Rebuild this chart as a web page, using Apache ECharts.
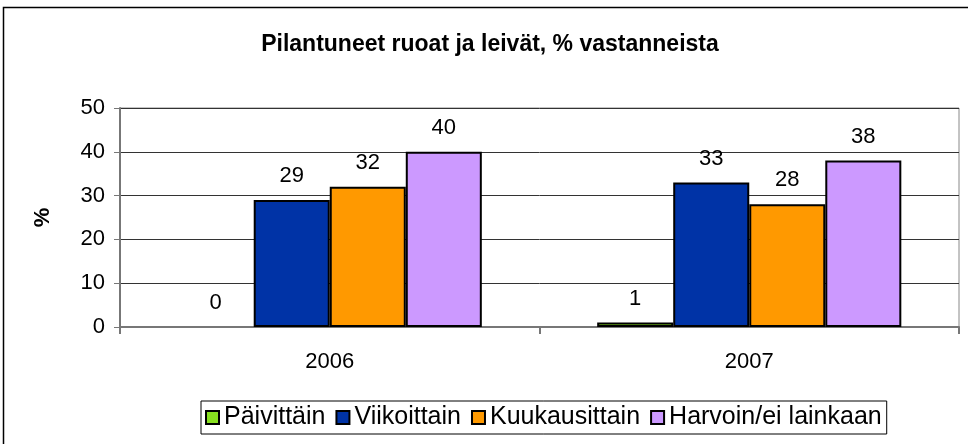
<!DOCTYPE html>
<html>
<head>
<meta charset="utf-8">
<script src="https://cdn.jsdelivr.net/npm/echarts@6/dist/echarts.min.js"></script>
<style>
html, body { margin: 0; padding: 0; background: #fff; }
#chart { width: 968px; height: 444px; }
</style>
</head>
<body>
<div id="chart"></div>
<script>
const years = ['2006', '2007'];
const seriesNames = ['Päivittäin', 'Viikoittain', 'Kuukausittain', 'Harvoin/ei lainkaan'];
const paivittain = [0, 1];
const viikoittain = [29, 33];
const kuukausittain = [32, 28];
const harvoin = [40, 38];
const colors = ['#88e020', '#0033a6', '#ff9900', '#cc99ff'];

const font = 'Liberation Sans, Arial, sans-serif';
const chart = echarts.init(document.getElementById('chart'));

function bar(name, values, color) {
    return {
        name: name,
        type: 'bar',
        // a zero bar gets no outline, like in the original
        data: values.map(v => v === 0 ? { value: v, itemStyle: { borderWidth: 0 } } : v),
        barGap: '0%',
        barCategoryGap: '27.5%',
        itemStyle: { color: color, borderColor: '#000', borderWidth: 2 },
        label: {
            show: true,
            position: 'top',
            distance: 13,
            color: '#000',
            fontFamily: font,
            fontSize: 22
        }
    };
}

const option = {
    animation: false,
    backgroundColor: '#fff',
    textStyle: { fontFamily: font },
    title: {
        text: 'Pilantuneet ruoat ja leivät, % vastanneista',
        left: 485,
        textAlign: 'center',
        top: 28,
        textStyle: { fontFamily: font, fontSize: 23, fontWeight: 'bold', color: '#000' }
    },
    grid: { left: 120, right: 9, top: 108, bottom: 117, show: true, borderColor: '#888', borderWidth: 1 },
    legend: {
        data: seriesNames,
        left: 201,
        top: 401,
        padding: [4, 5, 4, 4],
        itemGap: 10,
        itemWidth: 13,
        itemHeight: 13,
        icon: 'rect',
        borderColor: '#000',
        borderWidth: 1,
        itemStyle: { borderColor: '#000', borderWidth: 2 },
        textStyle: { fontFamily: font, fontSize: 25, color: '#000' }
    },
    xAxis: {
        type: 'category',
        data: years,
        axisLine: { lineStyle: { color: '#777', width: 2 } },
        axisTick: { show: true, length: 7, lineStyle: { color: '#777', width: 2 } },
        axisLabel: { color: '#000', fontSize: 22, fontFamily: font, margin: 24 }
    },
    yAxis: {
        type: 'value',
        min: 0,
        max: 50,
        interval: 10,
        name: '%',
        nameLocation: 'middle',
        nameGap: 66,
        nameTextStyle: { fontFamily: font, fontSize: 22, fontWeight: 'bold', color: '#000' },
        axisLine: { show: true, lineStyle: { color: '#777', width: 2 } },
        axisTick: { show: true, length: 6, lineStyle: { color: '#777', width: 1 } },
        axisLabel: { color: '#000', fontSize: 22, fontFamily: font, margin: 15 },
        splitLine: { lineStyle: { color: '#333', width: 1 } }
    },
    graphic: [{
        type: 'rect',
        shape: { x: 3.5, y: 7.5, width: 980, height: 460 },
        style: { fill: null, stroke: '#000', lineWidth: 1.5 },
        silent: true
    }],
    series: [
        bar(seriesNames[0], paivittain, colors[0]),
        bar(seriesNames[1], viikoittain, colors[1]),
        bar(seriesNames[2], kuukausittain, colors[2]),
        bar(seriesNames[3], harvoin, colors[3])
    ]
};

chart.setOption(option);
</script>
</body>
</html>
